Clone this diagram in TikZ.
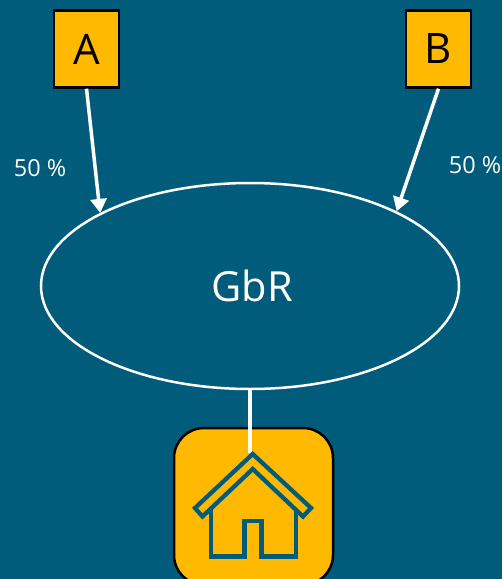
\documentclass[tikz,border=0pt]{standalone}
\usepackage{fontspec}
\setmainfont{Open Sans}
\usetikzlibrary{shapes.geometric,arrows.meta}
\definecolor{bg}{HTML}{005C7A}
\definecolor{gold}{HTML}{FFB900}
\tikzset{
  ownerbox/.style={draw=black,line width=2.4pt,fill=gold,minimum width=65pt,minimum height=77pt,inner sep=0pt,text=black,font=\fontsize{42}{42}\selectfont},
  share/.style={text=white,inner sep=0pt,font=\fontsize{23.5}{23.5}\selectfont},
  flow/.style={draw=white,line width=3.5pt,-{Triangle[length=14pt,width=16pt]}},
  icon/.style={draw=bg,line width=4.3pt,miter limit=10},
}
\begin{document}
\begin{tikzpicture}[x=1pt,y=-1pt]
\useasboundingbox (0,0) rectangle (502,579);
\clip (0,0) rectangle (502,579);
\fill[bg] (0,0) rectangle (502,579);
\node[ownerbox] (A) at (86.5,49) {A};
\node[ownerbox] (B) at (438.5,49) {B};
\node[draw=white,line width=2.5pt,ellipse,minimum width=418pt,minimum height=206pt,inner sep=0pt,text=white,font=\fontsize{41.5}{41.5}\selectfont] (G) at (250,286) {\hspace{4pt}GbR};
\node[share] (pa) at (40,168.5) {50 \%};
\node[share] (pb) at (475,165.5) {50 \%};
\node[draw=black,line width=2.5pt,fill=gold,rounded corners=30pt,minimum width=159pt,minimum height=157pt,inner sep=0pt] (H) at (253.5,506.5) {};
\coordinate (apex) at (G.south |- 0,453);
\draw[flow] (A.south) -- (G.154);
\draw[flow] (B.south) -- (G.27.5);
\draw[draw=white,line width=3.5pt] (G.south) -- (apex);
\draw[icon] (252.7,454) -- (311,508) -- (303,516.5) -- (252.7,469) -- (202.5,516.5) -- (195,508) -- cycle;
\draw[icon] (211,510) -- (211,556.5) -- (244.5,556.5) -- (244.5,521) -- (261.5,521) -- (261.5,556.5) -- (296,556.5) -- (296,510);
\end{tikzpicture}
\end{document}
